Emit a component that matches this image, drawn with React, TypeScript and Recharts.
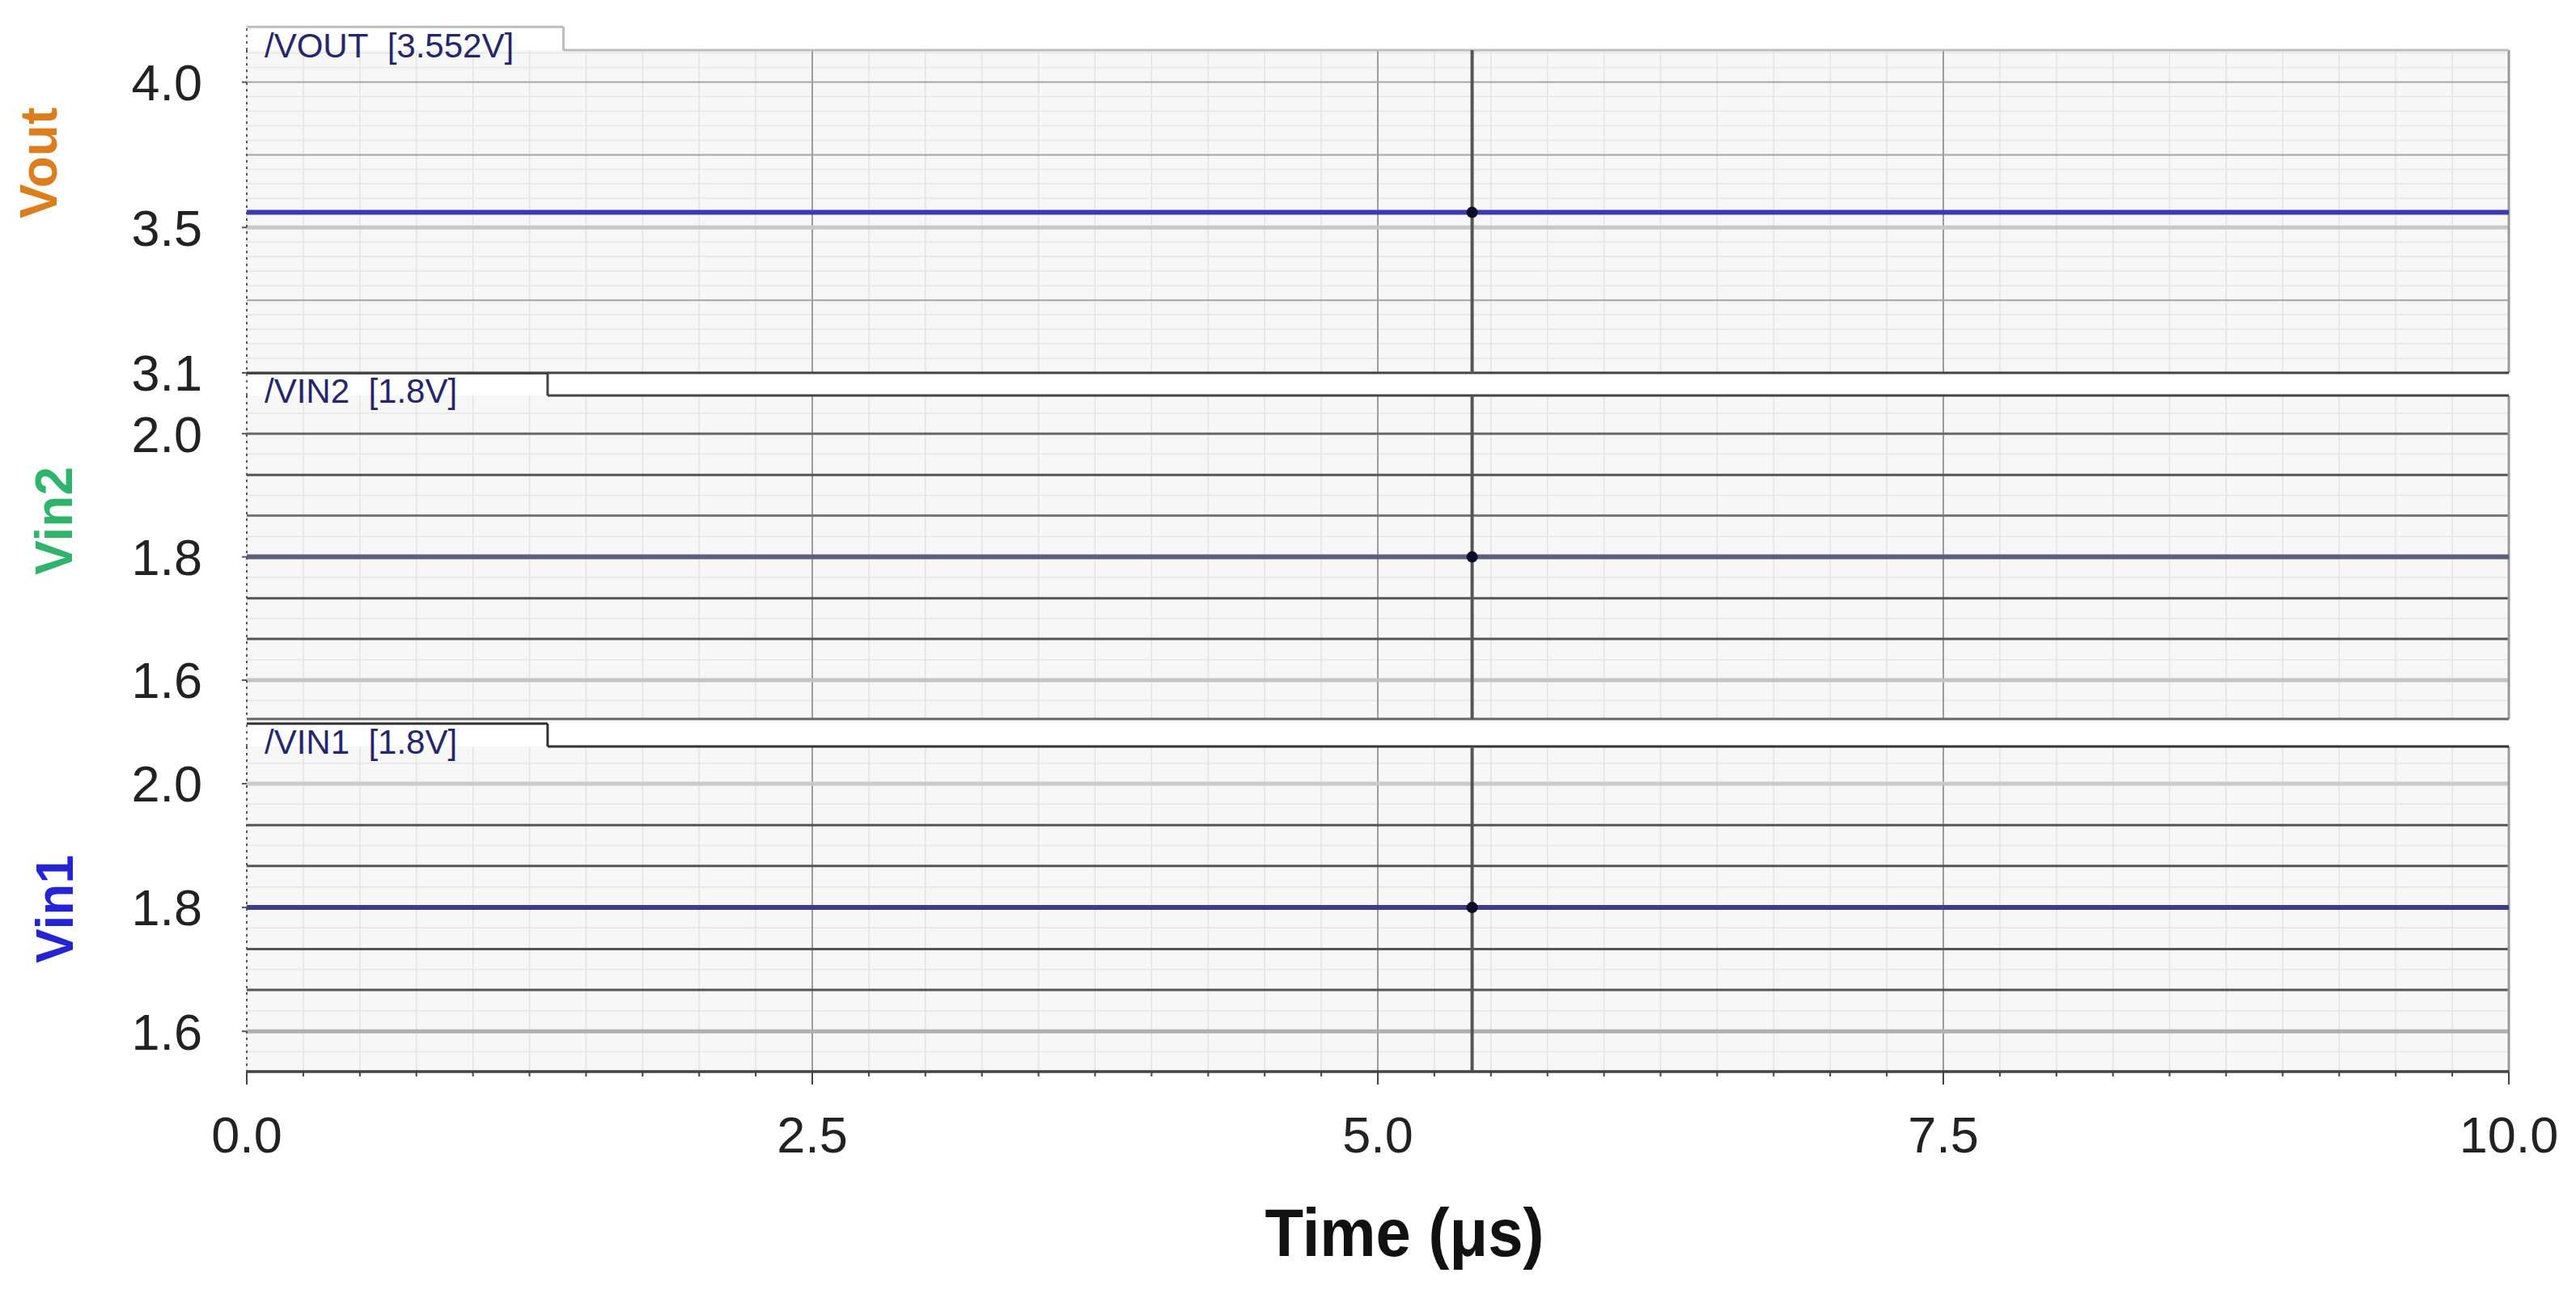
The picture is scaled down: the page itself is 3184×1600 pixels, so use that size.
import React from "react"
import {
  LineChart,
  Line,
  XAxis,
  YAxis,
  ReferenceLine,
  ReferenceArea,
  ReferenceDot,
} from "recharts"

const time = [0, 2.5, 5, 7.5, 10]
const vout = [3.552, 3.552, 3.552, 3.552, 3.552]
const vin2 = [1.8, 1.8, 1.8, 1.8, 1.8]
const vin1 = [1.8, 1.8, 1.8, 1.8, 1.8]

const xMajorTicks = [0, 2.5, 5, 7.5, 10]
const xTickLabels = ["0.0", "2.5", "5.0", "7.5", "10.0"]

const voutTicks = [3.0, 3.5, 4.0]
const voutTickLabels = ["3.1", "3.5", "4.0"]
const vinTicks = [1.6, 1.8, 2.0]
const vinTickLabels = ["1.6", "1.8", "2.0"]

const cursorTime = 5.417

const data = time.map((t, i) => ({ t, vout: vout[i], vin2: vin2[i], vin1: vin1[i] }))

const FONT = "'Liberation Sans', Arial, sans-serif"
const NB = "\u00a0"
const minorX = Array.from({ length: 41 }, (_, i) => i * 0.25)

type Grid = { v: number; c: string; w: number }

interface PanelProps {
  top: number
  height: number
  mTop: number
  mBottom: number
  domain: [number, number]
  tabTop: number
  tabEnd: number
  tabLabel: string
  tabStroke: string
  ticks: number[]
  tickLabels: string[]
  title: string
  titleColor: string
  titleX: number
  titleDy: number
  grid: Grid[]
  minor: number[]
  dataKey: string
  traceColor: string
  cursorValue: number
  bottomStroke: string
  showX?: boolean
}

function Panel(p: PanelProps) {
  const [lo, hi] = p.domain
  const fmt = (v: number) => {
    const i = p.ticks.findIndex((t) => Math.abs(t - v) < 1e-6)
    return i >= 0 ? p.tickLabels[i] : ""
  }

  const XTick = (props: any) => {
    const { x, y, payload } = props
    const idx = xMajorTicks.findIndex((t) => Math.abs(t - payload.value) < 1e-6)
    if (idx < 0) return null
    return (
      <g>
        <line x1={x} x2={x} y1={y - 6} y2={y + 8} stroke="#444" strokeWidth={2} />
        <text x={x} y={y + 92} textAnchor="middle" fontSize={63} fill="#222" fontFamily={FONT}>
          {xTickLabels[idx]}
        </text>
      </g>
    )
  }

  return (
    <div style={{ position: "absolute", left: 0, top: p.top }}>
      <LineChart
        width={3184}
        height={p.height}
        data={data}
        margin={{ top: p.mTop, bottom: p.mBottom, left: 205, right: 83 }}
      >
        <XAxis
          dataKey="t"
          type="number"
          domain={[0, 10]}
          ticks={minorX}
          hide={!p.showX}
          height={p.showX ? 275 : 0}
          interval={0}
          axisLine={{ stroke: "#444", strokeWidth: 3 }}
          tickLine={{ stroke: "#444", strokeWidth: 2 }}
          tickSize={6}
          tick={<XTick />}
          label={
            p.showX
              ? {
                  content: (lp: any) => {
                    const vb = lp.viewBox
                    return (
                      <text
                        x={vb.x + vb.width / 2 + 33}
                        y={vb.y + 228}
                        textAnchor="middle"
                        fontSize={84}
                        fontWeight="bold"
                        fill="#111"
                        fontFamily={FONT}
                        textLength={345}
                        lengthAdjust="spacingAndGlyphs"
                      >
                        Time (μs)
                      </text>
                    )
                  },
                }
              : undefined
          }
        />
        <YAxis
          type="number"
          domain={p.domain}
          allowDataOverflow
          ticks={p.ticks}
          interval={0}
          tickFormatter={fmt}
          width={100}
          tickSize={6}
          tickMargin={49}
          tick={{ fontSize: 63, fill: "#222", fontFamily: FONT }}
          axisLine={{ stroke: "#555", strokeWidth: 2, strokeDasharray: "3 5" }}
          tickLine={{ stroke: "#555", strokeWidth: 2 }}
          label={{
            content: (lp: any) => {
              const vb = lp.viewBox
              const cy = vb.y + vb.height / 2 + p.titleDy
              return (
                <text
                  x={p.titleX}
                  y={cy}
                  transform={`rotate(-90, ${p.titleX}, ${cy})`}
                  textAnchor="middle"
                  dominantBaseline="central"
                  fontSize={64}
                  fontWeight="bold"
                  fill={p.titleColor}
                  fontFamily={FONT}
                >
                  {p.title}
                </text>
              )
            },
          }}
        />

        {/* panel background + tab */}
        <ReferenceArea x1={0} x2={10} y1={lo} y2={hi} fill="#f7f7f7" fillOpacity={1} stroke="none" />
        <ReferenceArea
          x1={0}
          x2={p.tabEnd}
          y1={hi}
          y2={p.tabTop}
          ifOverflow="visible"
          fill="#ffffff"
          fillOpacity={1}
          stroke="none"
          label={{
            value: p.tabLabel,
            position: "insideLeft",
            offset: 22,
            dy: 8,
            fontSize: 42,
            fill: "#26266e",
            fontFamily: FONT,
          }}
        />

        {/* grid */}
        {minorX.map((v) => (
          <ReferenceLine key={`mx${v}`} segment={[{ x: v, y: lo }, { x: v, y: hi }]} stroke="#e3e3e3" strokeWidth={1.5} />
        ))}
        {p.minor.map((v) => (
          <ReferenceLine key={`my${v}`} y={v} stroke="#e6e6e6" strokeWidth={1.5} />
        ))}
        {[2.5, 5, 7.5].map((v) => (
          <ReferenceLine key={`Mx${v}`} segment={[{ x: v, y: lo }, { x: v, y: hi }]} stroke="#9c9c9c" strokeWidth={2} />
        ))}
        {p.grid.map((g) => (
          <ReferenceLine key={`My${g.v}`} y={g.v} stroke={g.c} strokeWidth={g.w} />
        ))}

        {/* frame */}
        <ReferenceLine x={10} stroke="#9a9a9a" strokeWidth={3} />
        <ReferenceLine y={lo} stroke={p.bottomStroke} strokeWidth={3} />
        <ReferenceLine segment={[{ x: p.tabEnd, y: hi }, { x: 10, y: hi }]} stroke={p.tabStroke} strokeWidth={3} />
        <ReferenceLine
          segment={[{ x: p.tabEnd, y: hi }, { x: p.tabEnd, y: p.tabTop }]}
          ifOverflow="visible"
          stroke={p.tabStroke}
          strokeWidth={3}
        />
        <ReferenceLine
          segment={[{ x: 0, y: p.tabTop }, { x: p.tabEnd, y: p.tabTop }]}
          ifOverflow="visible"
          stroke={p.tabStroke}
          strokeWidth={3}
        />
        <ReferenceLine
          segment={[{ x: 0, y: hi }, { x: 0, y: p.tabTop }]}
          ifOverflow="visible"
          stroke="#666"
          strokeWidth={2}
          strokeDasharray="3 5"
        />

        <Line
          dataKey={p.dataKey}
          type="linear"
          stroke={p.traceColor}
          strokeWidth={6}
          dot={false}
          activeDot={false}
          isAnimationActive={false}
        />

        {/* cursor */}
        <ReferenceLine segment={[{ x: cursorTime, y: lo }, { x: cursorTime, y: hi }]} stroke="#555" strokeWidth={4} />
        <ReferenceDot x={cursorTime} y={p.cursorValue} r={7} fill="#0d0d2a" stroke="none" />
      </LineChart>
    </div>
  )
}

const voutMinor = [3.05, 3.1, 3.15, 3.2, 3.3, 3.35, 3.4, 3.45, 3.55, 3.6, 3.65, 3.7, 3.8, 3.85, 3.9, 3.95, 4.05, 4.1]
const vinMinor = [2.033, 1.967, 1.9, 1.833, 1.767, 1.7, 1.633, 1.567]

export default function App() {
  return (
    <div style={{ position: "absolute", left: 0, top: 0, width: 3184, height: 1600, background: "#fff" }}>
      <Panel
        top={0}
        height={500}
        mTop={62}
        mBottom={39}
        domain={[3.0, 4.11]}
        tabTop={4.19}
        tabEnd={1.4}
        tabLabel={`/VOUT${NB}${NB}[3.552V]`}
        tabStroke="#bdbdbd"
        ticks={voutTicks}
        tickLabels={voutTickLabels}
        title="Vout"
        titleColor="#dc7d1e"
        titleX={48}
        titleDy={-60}
        grid={[
          { v: 4.0, c: "#a5a5a5", w: 2 },
          { v: 3.75, c: "#a5a5a5", w: 2 },
          { v: 3.5, c: "#c8c8c8", w: 5 },
          { v: 3.25, c: "#a5a5a5", w: 2 },
        ]}
        minor={voutMinor}
        dataKey="vout"
        traceColor="#3a3ab4"
        cursorValue={vout[0]}
        bottomStroke="#444"
      />
      <Panel
        top={455}
        height={440}
        mTop={34}
        mBottom={6}
        domain={[1.537, 2.062]}
        tabTop={2.098}
        tabEnd={1.33}
        tabLabel={`/VIN2${NB}${NB}[1.8V]`}
        tabStroke="#444"
        ticks={vinTicks}
        tickLabels={vinTickLabels}
        title="Vin2"
        titleColor="#2fb46c"
        titleX={67}
        titleDy={-45}
        grid={[
          { v: 2.0, c: "#6a6a6a", w: 3 },
          { v: 1.933, c: "#555", w: 3 },
          { v: 1.867, c: "#777", w: 3 },
          { v: 1.733, c: "#555", w: 3 },
          { v: 1.667, c: "#555", w: 3 },
          { v: 1.6, c: "#c4c4c4", w: 5 },
        ]}
        minor={vinMinor}
        dataKey="vin2"
        traceColor="#5c5f80"
        cursorValue={vin2[0]}
        bottomStroke="#666"
      />
      <Panel
        top={885}
        height={715}
        mTop={38}
        mBottom={0}
        domain={[1.535, 2.06]}
        tabTop={2.097}
        tabEnd={1.33}
        tabLabel={`/VIN1${NB}${NB}[1.8V]`}
        tabStroke="#333"
        ticks={vinTicks}
        tickLabels={vinTickLabels}
        title="Vin1"
        titleColor="#2424d4"
        titleX={68}
        titleDy={0}
        grid={[
          { v: 2.0, c: "#cacaca", w: 5 },
          { v: 1.933, c: "#555", w: 3 },
          { v: 1.867, c: "#555", w: 3 },
          { v: 1.733, c: "#555", w: 3 },
          { v: 1.667, c: "#555", w: 3 },
          { v: 1.6, c: "#b0b0b0", w: 5 },
        ]}
        minor={vinMinor}
        dataKey="vin1"
        traceColor="#3c3c8c"
        cursorValue={vin1[0]}
        bottomStroke="#444"
        showX
      />
    </div>
  )
}
